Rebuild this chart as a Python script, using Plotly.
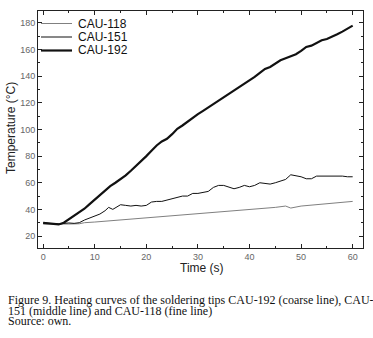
import plotly.graph_objects as go

t192 = list(range(0, 61))
v192 = [29.8, 29.5, 29, 28.7, 30, 32.5, 35, 37.5, 40.5, 44, 47.5, 51, 54.5, 57.5, 60, 62.5,
        65.5, 69, 72.5, 76, 80, 84, 88, 91, 93, 96.5, 100.5, 103, 106, 108.5, 111.5, 114,
        116.5, 119, 122, 124.5, 127, 129.5, 132, 134.5, 137, 139.5, 142.5, 145.5, 147, 149.5,
        152, 153.5, 155, 156.5, 159, 162, 163, 165, 167, 168, 169.5, 171.5, 173.5, 176, 178]

t151 = [0, 1, 2, 3, 4, 5, 6, 7, 8, 9, 10, 11, 12, 12.7, 13.5, 14, 15, 16, 17, 18, 19, 20, 21,
        22, 23, 24, 25, 26, 27, 28, 29, 30, 31, 32, 33, 34, 35, 36, 37, 38, 39, 40, 41, 42, 43,
        44, 45, 46, 47, 48, 49, 50, 51, 52, 53, 54, 55, 56, 57, 58, 59, 60]
v151 = [29.8, 29.5, 29, 29, 29.5, 29.8, 29.5, 30, 32, 33.5, 35, 36.5, 39, 41.5, 40, 41, 43.5,
        43, 42.5, 43, 42.5, 43, 45.5, 46, 46, 47, 48, 49.5, 50, 50, 52, 52, 52.5, 53.5, 56.5,
        58, 58, 56.5, 55.5, 56.5, 58, 57, 58, 60, 59.5, 59, 60, 61, 62.5, 66, 65.5, 64.5, 63,
        63, 65, 65, 65, 65.5, 65, 65, 64.5, 64.5]

t118 = [0, 3, 5, 7, 8, 10, 15, 20, 25, 30, 35, 40, 45, 47, 48, 50, 55, 60]
v118 = [29, 28.8, 29, 29.2, 30, 30.5, 32, 33.5, 35, 36.5, 38, 39.5, 41.5, 42.5, 41, 42.5, 44, 46]

series_names = ["CAU-118", "CAU-151", "CAU-192"]
series_colors = ["#808080", "#111111", "#111111"]
series_widths = [1, 1, 2.2]
caption_lines = [
    "Figure 9. Heating curves of the soldering tips CAU-192 (coarse line), CAU-",
    "151 (middle line) and CAU-118 (fine line)",
    "Source: own.",
]

W, H = 373, 338
ML, MR, MT, MB = 38, 10, 11, 90
PW, PH = W - ML - MR, H - MT - MB


def px(xp):
    return (xp - ML) / PW


def py(yp):
    return (H - MB - yp) / PH


fig = go.Figure()
for xs, ys, nm, c, w in zip([t118, t151, t192], [v118, v151, v192],
                            series_names, series_colors, series_widths):
    fig.add_trace(go.Scatter(x=xs, y=ys, mode="lines", name=nm, showlegend=False,
                             line=dict(color=c, width=w)))

axis_common = dict(
    showline=True, linecolor="#222222", linewidth=1, mirror="allticks",
    ticks="inside", ticklen=4, tickcolor="#222222", showgrid=False, zeroline=False,
    automargin=False,
    tickfont=dict(family="Liberation Sans, Arial", size=9, color="#666666"),
)

fig.update_xaxes(range=[-1, 62], tick0=0, dtick=10,
                 minor=dict(ticks="inside", ticklen=2, dtick=5, tick0=0, tickcolor="#222222"),
                 **axis_common)
fig.update_yaxes(range=[11, 189], tick0=0, dtick=20,
                 minor=dict(ticks="inside", ticklen=2, dtick=10, tick0=0, tickcolor="#222222"),
                 **axis_common)

shapes = []
annotations = []
# manual legend
legend_rows = [23.5, 37, 50.5]
for nm, c, w, yr in zip(series_names, series_colors, series_widths, legend_rows):
    shapes.append(dict(type="line", xref="paper", yref="paper",
                       x0=px(41), x1=px(72), y0=py(yr), y1=py(yr),
                       line=dict(color=c, width=w)))
    annotations.append(dict(text=nm, xref="paper", yref="paper", x=px(76), y=py(yr),
                            xanchor="left", yanchor="middle", showarrow=False,
                            font=dict(family="Liberation Sans, Arial", size=12, color="#111111")))

# axis titles
annotations.append(dict(text="Time (s)", xref="paper", yref="paper", x=px(202), y=py(267.5),
                        xanchor="center", yanchor="middle", showarrow=False,
                        font=dict(family="Liberation Sans, Arial", size=12, color="#222222")))
annotations.append(dict(text="Temperature (°C)", xref="paper", yref="paper", x=px(11),
                        y=py(128), xanchor="center", yanchor="middle", showarrow=False,
                        textangle=-90,
                        font=dict(family="Liberation Sans, Arial", size=12, color="#222222")))

# caption
for line, yc in zip(caption_lines, [299.5, 310.5, 321.5]):
    annotations.append(dict(text=line, xref="paper", yref="paper", x=px(6), y=py(yc),
                            xanchor="left", yanchor="middle", showarrow=False,
                            font=dict(family="Liberation Serif, Times New Roman", size=12,
                                      color="#111111")))

fig.update_layout(
    width=W, height=H,
    margin=dict(l=ML, r=MR, t=MT, b=MB),
    plot_bgcolor="white", paper_bgcolor="white",
    showlegend=False,
    shapes=shapes,
    annotations=annotations,
)

fig.write_html("out.html",
               config={"displayModeBar": False},
               post_script="document.body.style.margin='0';document.body.style.overflow='hidden';")
